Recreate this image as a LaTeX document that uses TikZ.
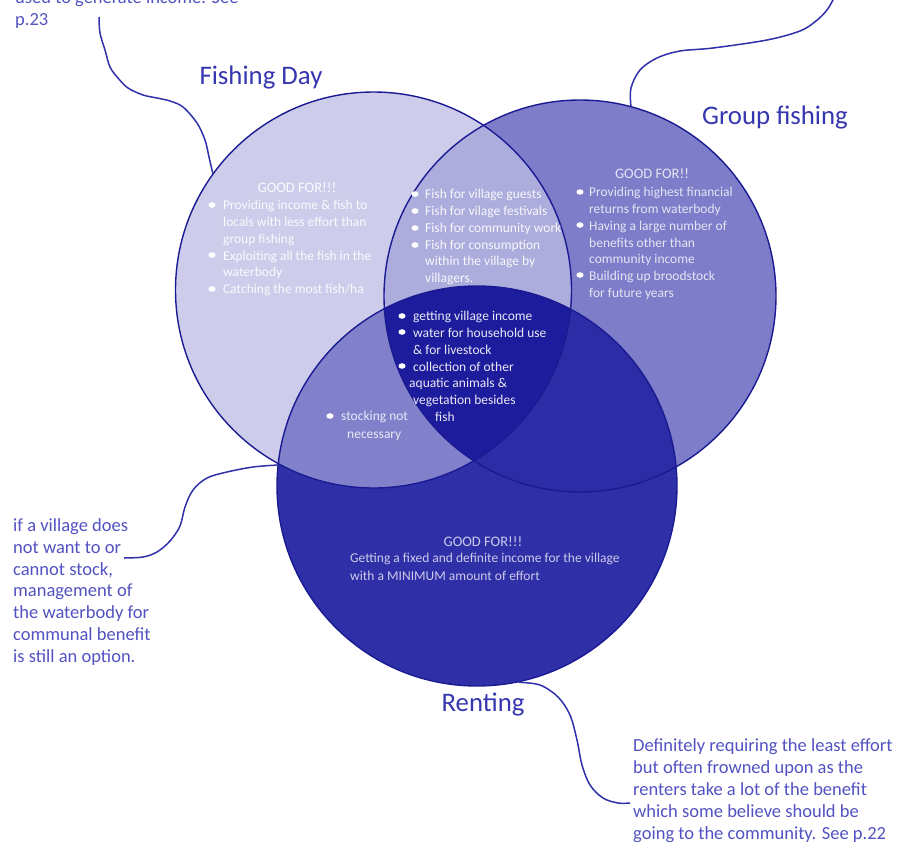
\documentclass[tikz,border=0pt]{standalone}
\usepackage{fontspec}
\setmainfont{Carlito}
\definecolor{cF}{HTML}{CDCDEB}
\definecolor{cG}{HTML}{7D7DC9}
\definecolor{cR}{HTML}{2F2FA8}
\definecolor{cFG}{HTML}{ACACDD}
\definecolor{cFR}{HTML}{8181CB}
\definecolor{cFGR}{HTML}{1C1C9C}
\definecolor{cGR}{HTML}{2C2CA6}
\definecolor{edge}{HTML}{1A1A92}
\definecolor{note}{HTML}{5252C2}
\definecolor{titlec}{HTML}{3636B0}
\definecolor{conn}{HTML}{3030AA}
\tikzset{
  ring/.style={circle, draw=edge, line width=1.4pt, inner sep=0pt},
  inner/.style={font=\fontsize{13.5}{16.8}\selectfont, align=left, inner sep=0pt, anchor=north west},
  head/.style={font=\fontsize{14.5}{16.8}\selectfont, inner sep=0pt},
  notetext/.style={font=\fontsize{18.5}{21.8}\selectfont, text=note, align=left, inner sep=0pt, anchor=north west},
  title/.style={font=\fontsize{26.8}{30}\selectfont, text=titlec, inner sep=0pt},
  link/.style={draw=conn, line width=1.5pt, smooth, tension=0.55},
  dot/.style={fill=white}
}
\begin{document}
\begin{tikzpicture}[x=1pt,y=-1pt]
\useasboundingbox (0,0) rectangle (897,841);
% fills
\fill[cF] (373.5,290) circle (198);
\fill[cG] (580,296) circle (196);
\fill[cR] (477,486) circle (200);
\begin{scope}
  \clip (373.5,290) circle (198);
  \fill[cFG] (580,296) circle (196);
  \fill[cFR] (477,486) circle (200);
  \clip (580,296) circle (196);
  \fill[cFGR] (477,486) circle (200);
\end{scope}
\begin{scope}
  \clip (580,296) circle (196);
  \clip (477,486) circle (200);
  \fill[cGR] (477,486) circle (200);
  \fill[cFGR] (373.5,290) circle (198);
\end{scope}
% outlines
\node[ring, minimum size=396pt] (F) at (373.5,290) {};
\node[ring, minimum size=392pt] (G) at (580,296) {};
\node[ring, minimum size=400pt] (R) at (477,486) {};
% titles
\node[title] (tF) at (261,77) {Fishing Day};
\node[title] (tG) at (775,117) {Group fishing};
\node[title] (tR) at (483,705) {Renting};
% Fishing Day text
\node[head, text=white!90!cF] (hF) at (297,188) {GOOD FOR!!!};
\node[inner, text=white!90!cF] (bF) at (223,200.1) {Providing income \& fish to\\locals with less effort than\\group fishing\\Exploiting all the fish in the\\waterbody\\Catching the most fish/ha};
\foreach \yy in {205,255,289} \fill[dot] (212,\yy) ellipse (3.6 and 2.8);
% FG text
\node[inner, text=white!92!cFG] (bFG) at (425,189.1) {Fish for village guests\\Fish for vilage festivals\\Fish for community work\\Fish for consumption\\within the village by\\villagers.};
\foreach \yy in {194,211,228,245} \fill[dot] (415,\yy) ellipse (3.6 and 2.8);
% G text
\node[head, text=white!80!cG] (hG) at (652,174) {GOOD FOR!!};
\node[inner, text=white!80!cG] (bG) at (589,187.1) {Providing highest financial\\returns from waterbody\\Having a large number of\\benefits other than\\community income\\Building up broodstock\\for future years};
\foreach \yy in {192,225,275} \fill[dot] (580,\yy) ellipse (3.6 and 2.8);
% triple
\node[inner, text=white!90!cFGR] (bT) at (413,311.1) {getting village income\\water for household use\\\& for livestock\\collection of other\\\hspace{-4pt}aquatic animals \&\\vegetation besides\\\hspace{22pt}fish};
\foreach \yy in {316,332,366} \fill[dot] (402,\yy) ellipse (3.6 and 2.8);
% FR text
\node[inner, text=white!82!cFR, font=\fontsize{13.5}{18}\selectfont] (bFR) at (341,411.1) {stocking not\\\hspace{6pt}necessary};
\fill[dot] (330,416) ellipse (3.6 and 2.8);
% Renting text
\node[head, text=white!75!cR] (hR) at (483,542) {GOOD FOR!!!};
\node[inner, text=white!75!cR, font=\fontsize{13.5}{18}\selectfont] (bR) at (350,553.1) {Getting a fixed and definite income for the village\\with a MINIMUM amount of effort};
% notes
\node[notetext] (nTL) at (15,-9.6) {used to generate income. See\\p.23};
\node[notetext] (nL) at (13,518.4) {if a village does\\not want to or\\cannot stock,\\management of\\the waterbody for\\communal benefit\\is still an option.};
\node[notetext, font=\fontsize{18.5}{22}\selectfont] (nBR) at (633,738.4) {Definitely requiring the least effort\\but often frowned upon as the\\renters take a lot of the benefit\\which some believe should be\\going to the community. See p.22};
% connectors
\coordinate (eTL) at (99,17);
\coordinate (eTR) at (834,-2);
\coordinate (eL) at (124,558);
\coordinate (eBR) at (630,803);
\draw[link] plot coordinates {(eTL) (100,33) (105,50) (110,67) (118,78) (128,88) (143,95) (157,98) (170,101) (183,107) (197,123) (205,140) (209,157) (F.144.5)};
\draw[link] plot coordinates {(G.75.7) (631,88) (640,70) (657,58) (680,51) (713,48) (767,40) (800,31) (816,21) (827,10) (eTR)};
\draw[link] plot coordinates {(eL) (143,557) (157,552) (170,541) (180,526) (185,507) (193,490) (207,478) (227,472) (253,467) (R.174)};
\draw[link] plot coordinates {(R.-78.5) (540,685) (558,697) (570,715) (577,740) (582,765) (590,785) (603,798) (618,803) (eBR)};
\end{tikzpicture}
\end{document}
